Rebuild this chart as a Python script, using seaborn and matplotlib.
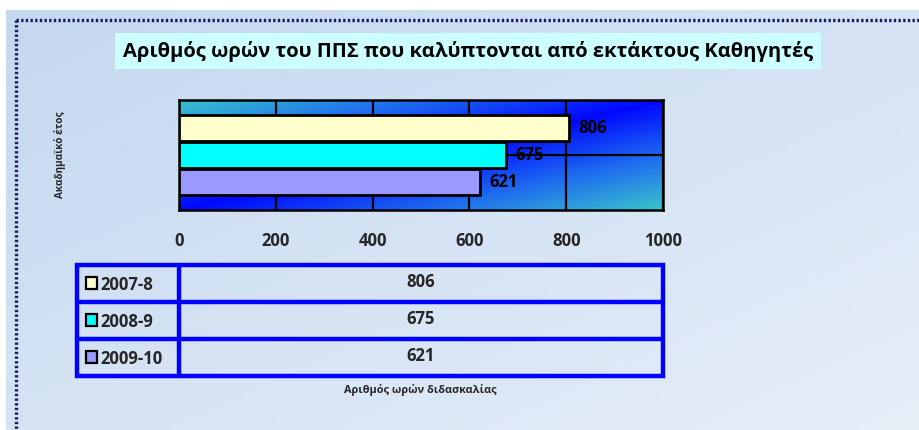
import numpy as np
import pandas as pd
import matplotlib
matplotlib.use("Agg")
import matplotlib.pyplot as plt
from matplotlib.colors import LinearSegmentedColormap
from matplotlib.patches import Rectangle
import seaborn as sns

# ---- data ----
years = ["2007-8", "2008-9", "2009-10"]
hours = [806, 675, 621]
bar_colors = ["#FFFFCC", "#00FFFF", "#9999FF"]
xticks = [0, 200, 400, 600, 800, 1000]
title = "Αριθμός ωρών του ΠΠΣ που καλύπτονται από εκτάκτους Καθηγητές"
ylabel = "Ακαδημαϊκό έτος"
xlabel = "Αριθμός ωρών διδασκαλίας"

sns.set_theme(style="white")
plt.rcParams["font.family"] = ["Open Sans", "DejaVu Sans"]

W, H = 919, 430
fig = plt.figure(figsize=(W / 100, H / 100), dpi=100)
fig.patch.set_facecolor("white")

def fx(px):
    return px / W

def fy(py):
    return 1 - py / H

# ---- background gradient (whole chart area) ----
bg = fig.add_axes([fx(6), 0, 1 - fx(6), fy(10)])
bg.set_axis_off()
gx, gy = np.meshgrid(np.linspace(0, 1, 200), np.linspace(0, 1, 100))
g = (gx + gy) / 2
bg_cmap = LinearSegmentedColormap.from_list("bg", ["#C4D8F0", "#E6EEF8"])
bg.imshow(g, cmap=bg_cmap, aspect="auto", extent=[0, 1, 1, 0], zorder=0)
bg.set_xlim(0, 1)
bg.set_ylim(1, 0)
# dotted border
bx0 = (16 - 6) / (W - 6)
by0 = (20 - 10) / (H - 10)
bg.plot([bx0, 1], [by0, by0], color="#1A1A66", lw=2.4, ls=(0, (0.7, 0.7)), zorder=2)
bg.plot([bx0, bx0], [by0, 1], color="#1A1A66", lw=2.4, ls=(0, (0.7, 0.7)), zorder=2)

# ---- title ----
fig.text(fx(468), fy(51), title, ha="center", va="center", fontsize=14.5,
         fontweight="bold", color="black",
         bbox=dict(boxstyle="square,pad=0.38", facecolor="#CCFFFF", edgecolor="none"))

# ---- main bar axes ----
ax = fig.add_axes([fx(179), fy(210), fx(663 - 179), (210 - 100) / H])
# plot-area gradient
gx2, gy2 = np.meshgrid(np.linspace(0, 1, 300), np.linspace(1, 0, 100))
d = np.abs(gx2 - gy2)
pa_cmap = LinearSegmentedColormap.from_list("pa", ["#0008FF", "#1E6AF0", "#38C4CC"])
ax.imshow(d, cmap=pa_cmap, aspect="auto", extent=[0, 1000, 0.5, -0.5], zorder=0)

df = pd.DataFrame({"cat": [""] * len(years), "year": years, "hours": hours})
sns.barplot(data=df, x="hours", y="cat", hue="year", hue_order=years,
            palette=bar_colors, saturation=1, orient="h", width=0.74, gap=0.04,
            edgecolor="black", linewidth=2, legend=False, ax=ax, zorder=3)
for c in ax.containers:
    ax.bar_label(c, fmt="%d", padding=7, fontsize=12, fontweight="bold", color="black")
    for p in c:
        p.set_zorder(3)

ax.set_xlim(0, 1000)
ax.set_ylim(0.5, -0.5)
ax.set_xticks(xticks)
ax.set_xticklabels([str(t) for t in xticks], fontsize=12, fontweight="bold")
ax.set_yticks([0])
ax.set_yticklabels([""])
ax.grid(True, axis="both", color="black", lw=1.6, zorder=1)
ax.set_axisbelow(True)
for s in ax.spines.values():
    s.set_visible(True)
    s.set_color("black")
    s.set_linewidth(1.8)
ax.tick_params(axis="x", direction="out", length=6, width=1.6, color="black", pad=10)
ax.tick_params(axis="y", length=0)
ax.set_xlabel("")
ax.set_ylabel("")
for ln in ax.get_xgridlines() + ax.get_ygridlines():
    ln.set_zorder(1.5)

fig.text(fx(60), fy(155), ylabel, rotation=90, ha="center", va="center",
         fontsize=7.2, fontweight="bold")

# ---- data table ----
tx0, tx1, ty0, ty1 = 77, 663, 265, 376
tax = fig.add_axes([fx(tx0), fy(ty1), fx(tx1 - tx0), (ty1 - ty0) / H])
tax.set_xlim(0, 1)
tax.set_ylim(len(years), 0)
tax.set_axis_off()
col = (179 - tx0) / (tx1 - tx0)
blue = "#0000FF"
tax.add_patch(Rectangle((0, 0), 1, len(years), fill=False, edgecolor=blue, lw=3.2, clip_on=False))
for i in range(1, len(years)):
    tax.plot([0, 1], [i, i], color=blue, lw=3.2, solid_capstyle="butt")
tax.plot([col, col], [0, len(years)], color=blue, lw=3.2, solid_capstyle="butt")
for i, (yr, hv, cl) in enumerate(zip(years, hours, bar_colors)):
    kw = 11 / (tx1 - tx0)
    tax.add_patch(Rectangle((9 / (tx1 - tx0), i + 0.33), kw, 0.32,
                            facecolor=cl, edgecolor="black", lw=1.6))
    tax.text(23 / (tx1 - tx0), i + 0.53, yr, ha="left", va="center",
             fontsize=12, fontweight="bold")
    tax.text((col + 1) / 2, i + 0.45, str(hv), ha="center", va="center",
             fontsize=12, fontweight="bold")

fig.text(fx(420), fy(390), xlabel, ha="center", va="center",
         fontsize=7.8, fontweight="bold")

fig.savefig("out.png", dpi=100, facecolor=fig.get_facecolor())
